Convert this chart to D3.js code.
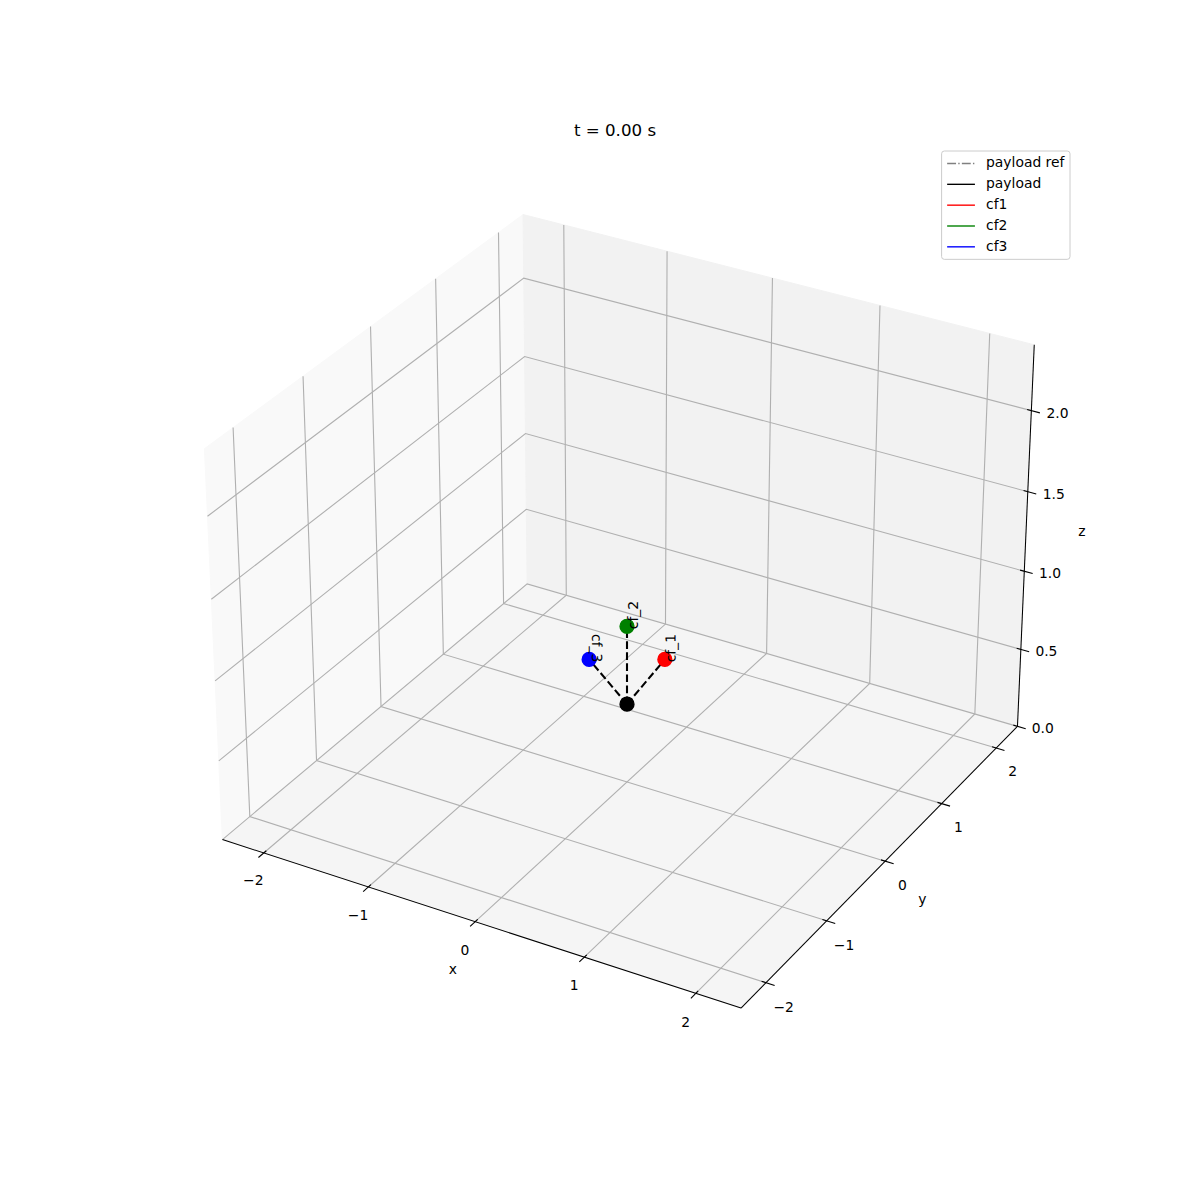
<!DOCTYPE html>
<html>
<head>
<meta charset="utf-8">
<script src="https://cdn.jsdelivr.net/npm/d3@7"></script>
<style>
  body { margin: 0; background: #fff; }
  text { font-family: "DejaVu Sans", sans-serif; }
</style>
</head>
<body>
<div id="chart"></div>
<script>
// axis limits and ticks
var xLim = [-2.4, 2.4], yLim = [-2.4, 2.4], zLim = [0, 2.4];
var xTicks = [-2, -1, 0, 1, 2];
var yTicks = [-2, -1, 0, 1, 2];
var zTicks = [0, 0.5, 1.0, 1.5, 2.0];
var title = "t = 0.00 s";

// state at t = 0
var payloadPos = [0, 0, 0.5];
var droneNames = ["cf_1", "cf_2", "cf_3"];
var dronePos = [[0.354, 0, 0.854], [-0.177, 0.3066, 0.854], [-0.177, -0.3066, 0.854]];
var droneColors = ["#ff0000", "#008000", "#0000ff"];

// trajectories recorded so far (one sample only)
var payloadRefTrail = [[0, 0, 0.5]];
var payloadTrail = [[0, 0, 0.5]];
var droneTrails = [[[0.354, 0, 0.854]], [[-0.177, 0.3066, 0.854]], [[-0.177, -0.3066, 0.854]]];

var legendLabels = ["payload ref", "payload", "cf1", "cf2", "cf3"];
var legendColors = ["#808080", "#000000", "#ff0000", "#008000", "#0000ff"];

var PT = 100 / 72;          // px per point
var FS = 10 * PT;           // 10pt

var svg = d3.select('#chart').append('svg')
    .attr('width', 1200)
    .attr('height', 1200);

// ---- mplot3d style projection (elev 30, azim -60, persp) ----
var elev = 30, azim = -60, dist = 10;
var aspect = [4, 4, 3];
var an = Math.hypot(aspect[0], aspect[1], aspect[2]);
aspect = aspect.map(a => a * 1.8294640721620434 / an);

var bx = d3.scaleLinear().domain(xLim).range([-aspect[0] / 2, aspect[0] / 2]);
var by = d3.scaleLinear().domain(yLim).range([-aspect[1] / 2, aspect[1] / 2]);
var bz = d3.scaleLinear().domain(zLim).range([-aspect[2] / 2, aspect[2] / 2]);

function dot(a, b) { return a[0] * b[0] + a[1] * b[1] + a[2] * b[2]; }
function cross(a, b) { return [a[1] * b[2] - a[2] * b[1], a[2] * b[0] - a[0] * b[2], a[0] * b[1] - a[1] * b[0]]; }

var er = elev * Math.PI / 180, ar = azim * Math.PI / 180;
var vw = [Math.cos(er) * Math.cos(ar), Math.cos(er) * Math.sin(ar), Math.sin(er)];
var vu = cross([0, 0, 1], vw);
var un = Math.hypot(vu[0], vu[1], vu[2]);
vu = vu.map(c => c / un);
var vv = cross(vw, vu);

// projected plane -> screen
var sx = d3.scaleLinear().domain([-0.1, 0.1]).range([627 - 520, 627 + 520]);
var sy = d3.scaleLinear().domain([-0.1, 0.1]).range([593 + 520, 593 - 520]);

function proj(p) {
    var d = [bx(p[0]), by(p[1]), bz(p[2])];
    var den = dist - dot(vw, d);
    return [sx(dot(vu, d) / den), sy(dot(vv, d) / den)];
}

var line3 = d3.line().x(d => proj(d)[0]).y(d => proj(d)[1]);

var x0 = xLim[0], x1 = xLim[1], y0 = yLim[0], y1 = yLim[1], z0 = zLim[0], z1 = zLim[1];

// panes
var panes = [
    { c: "#f9f9f9", pts: [[x0, y0, z0], [x0, y1, z0], [x0, y1, z1], [x0, y0, z1]] },
    { c: "#f2f2f2", pts: [[x0, y1, z0], [x1, y1, z0], [x1, y1, z1], [x0, y1, z1]] },
    { c: "#f5f5f5", pts: [[x0, y0, z0], [x1, y0, z0], [x1, y1, z0], [x0, y1, z0]] }
];
svg.append('g').selectAll('path').data(panes).enter().append('path')
    .attr('d', d => line3(d.pts) + 'Z')
    .attr('fill', d => d.c)
    .attr('stroke', d => d.c)
    .attr('stroke-width', 1);

// grid
var grid = [];
xTicks.forEach(t => grid.push([[t, y0, z0], [t, y1, z0], [t, y1, z1]]));
yTicks.forEach(t => grid.push([[x1, t, z0], [x0, t, z0], [x0, t, z1]]));
zTicks.forEach(t => grid.push([[x0, y0, t], [x0, y1, t], [x1, y1, t]]));
svg.append('g').selectAll('path').data(grid).enter().append('path')
    .attr('d', d => line3(d))
    .attr('fill', 'none')
    .attr('stroke', '#b0b0b0')
    .attr('stroke-width', 0.8 * PT);

// axis lines
var axLines = [
    [[x0, y0, z0], [x1, y0, z0]],
    [[x1, y0, z0], [x1, y1, z0]],
    [[x1, y1, z0], [x1, y1, z1]]
];
svg.append('g').selectAll('path').data(axLines).enter().append('path')
    .attr('d', d => line3(d))
    .attr('stroke', '#000')
    .attr('stroke-width', 0.75 * PT);

// ticks
var dX = (x1 - x0) * 0.08, dY = (y1 - y0) * 0.08, dZ = (z1 - z0) * 0.08;
var ticks = [];
xTicks.forEach(t => ticks.push([[t, y0 + 0.1 * dY, z0], [t, y0 - 0.2 * dY, z0]]));
yTicks.forEach(t => ticks.push([[x1 - 0.1 * dX, t, z0], [x1 + 0.2 * dX, t, z0]]));
zTicks.forEach(t => ticks.push([[x1 - 0.1 * dX, y1, t], [x1 + 0.2 * dX, y1, t]]));
svg.append('g').selectAll('path').data(ticks).enter().append('path')
    .attr('d', d => line3(d))
    .attr('stroke', '#000')
    .attr('stroke-width', 0.8 * PT);

// tick labels (ha center, va top)
var dpp = 48 / (72 * (9.3 + 9.24));
var tl = 11.5 * dpp;
var fmtInt = d3.format("d"), fmtZ = d3.format(".1f");
var tickLabels = [];
xTicks.forEach(t => tickLabels.push({ p: [t, y0 - tl * dY, z0 - tl * dZ], s: fmtInt(t) }));
yTicks.forEach(t => tickLabels.push({ p: [x1 + tl * dX, t, z0 - tl * dZ], s: fmtInt(t) }));
zTicks.forEach(t => tickLabels.push({ p: [x1 + tl * dX, y1 + tl * dY, t], s: fmtZ(t) }));
svg.append('g').selectAll('text').data(tickLabels).enter().append('text')
    .attr('x', d => proj(d.p)[0])
    .attr('y', d => proj(d.p)[1] + 0.76 * FS)
    .attr('text-anchor', 'middle')
    .attr('font-size', FS)
    .text(d => d.s.replace('-', '\u2212'));

// axis labels (centered)
var ll = 25 * dpp;
var axLabels = [
    { p: [(x0 + x1) / 2, y0 - ll * dY, z0 - ll * dZ], s: "x" },
    { p: [x1 + ll * dX, (y0 + y1) / 2, z0 - ll * dZ], s: "y" },
    { p: [x1 + ll * dX, y1 + ll * dY, (z0 + z1) / 2], s: "z" }
];
svg.append('g').selectAll('text').data(axLabels).enter().append('text')
    .attr('x', d => proj(d.p)[0])
    .attr('y', d => proj(d.p)[1] + 0.276 * FS)
    .attr('text-anchor', 'middle')
    .attr('font-size', FS)
    .text(d => d.s);

// trajectories (single sample -> nothing visible yet)
var trails = svg.append('g').attr('fill', 'none');
trails.append('path').attr('d', line3(payloadRefTrail)).attr('stroke', legendColors[0])
    .attr('stroke-dasharray', '8.9,2.2,1.4,2.2');
trails.append('path').attr('d', line3(payloadTrail)).attr('stroke', legendColors[1]);
droneTrails.forEach((tr, i) => trails.append('path').attr('d', line3(tr)).attr('stroke', droneColors[i]));

// cables
svg.append('g').selectAll('path').data(dronePos).enter().append('path')
    .attr('d', d => line3([payloadPos, d]))
    .attr('fill', 'none')
    .attr('stroke', '#000')
    .attr('stroke-width', 1.5 * PT)
    .attr('stroke-dasharray', (3.7 * 1.5 * PT) + ',' + (1.6 * 1.5 * PT));

// markers
var markers = [{ p: payloadPos, c: "#000000" }].concat(dronePos.map((p, i) => ({ p: p, c: droneColors[i] })));
svg.append('g').selectAll('circle').data(markers).enter().append('circle')
    .attr('cx', d => proj(d.p)[0])
    .attr('cy', d => proj(d.p)[1])
    .attr('r', 5 * PT)
    .attr('fill', d => d.c)
    .attr('stroke', d => d.c)
    .attr('stroke-width', 1 * PT);

// drone names, text3D with zdir = z
var names = svg.append('g');
dronePos.forEach(function(p, i) {
    var a0 = proj(p), a1 = proj([p[0], p[1], p[2] + 1]);
    var ang = Math.atan2(-(a1[1] - a0[1]), a1[0] - a0[0]) * 180 / Math.PI;
    ang = Math.round(ang * 1e6) / 1e6;
    ang = (ang + 180) % 180;
    if (ang > 90) ang -= 180;

    var t = names.append('text')
        .attr('font-size', FS)
        .text(droneNames[i]);
    var W = t.node().getComputedTextLength();
    var h = 0.968 * FS, dsc = 0.208 * FS;
    var th = ang * Math.PI / 180, c = Math.cos(th), s = Math.sin(th);
    var corners = [[0, -dsc], [0, h - dsc], [W, h - dsc], [W, -dsc]]
        .map(q => [q[0] * c - q[1] * s, q[0] * s + q[1] * c]);
    var xmin = d3.min(corners, q => q[0]), ymin = d3.min(corners, q => q[1]);
    var ox = a0[0] - xmin, oy = a0[1] + (ymin + dsc);
    t.attr('transform', 'translate(' + ox + ',' + oy + ') rotate(' + (-ang) + ')');
});

// title
svg.append('text')
    .attr('x', 615)
    .attr('y', 144 - 6 * PT)
    .attr('text-anchor', 'middle')
    .attr('font-size', 12 * PT)
    .text(title);

// legend
var lgRight = 1070, lgTop = 151;
var pad = 0.4 * FS, handle = 2 * FS, hpad = 0.8 * FS, rowH = FS, rowGap = 0.5 * FS;
var legend = svg.append('g');
var box = legend.append('rect')
    .attr('fill', '#fff')
    .attr('fill-opacity', 0.8)
    .attr('stroke', '#cccccc')
    .attr('stroke-width', 1)
    .attr('rx', 0.2 * FS);
var rows = legend.selectAll('g.row').data(legendLabels).enter().append('g')
    .attr('class', 'row');
rows.append('text')
    .attr('font-size', FS)
    .attr('x', 0)
    .attr('y', (d, i) => lgTop + pad + i * (rowH + rowGap) + rowH / 2 + 0.276 * FS)
    .text(d => d);
var textW = d3.max(rows.selectAll('text').nodes(), n => n.getComputedTextLength());
var lgW = pad * 2 + handle + hpad + textW;
var lgH = pad * 2 + legendLabels.length * rowH + (legendLabels.length - 1) * rowGap;
var lgLeft = lgRight - lgW;
box.attr('x', lgLeft).attr('y', lgTop).attr('width', lgW).attr('height', lgH);
rows.select('text').attr('x', lgLeft + pad + handle + hpad);
rows.append('line')
    .attr('x1', lgLeft + pad)
    .attr('x2', lgLeft + pad + handle)
    .attr('y1', (d, i) => lgTop + pad + i * (rowH + rowGap) + rowH / 2)
    .attr('y2', (d, i) => lgTop + pad + i * (rowH + rowGap) + rowH / 2)
    .attr('stroke', (d, i) => legendColors[i])
    .attr('stroke-width', 1 * PT)
    .attr('stroke-dasharray', (d, i) => i === 0 ? '8.9,2.2,1.4,2.2' : null);
</script>
</body>
</html>
